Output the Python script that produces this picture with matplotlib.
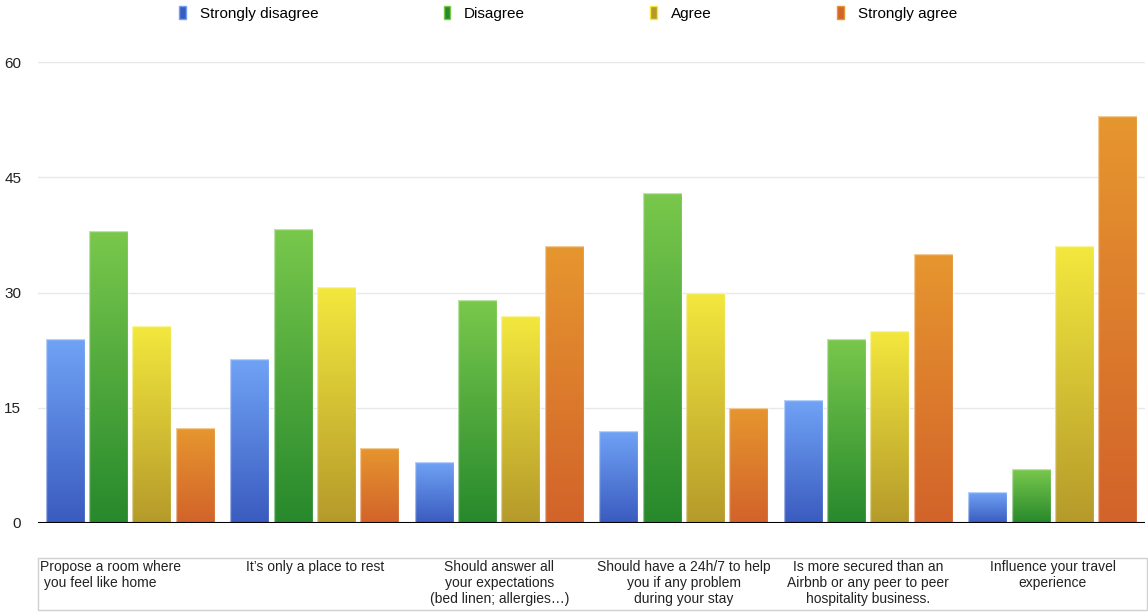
import numpy as np
import matplotlib
matplotlib.use("Agg")
import matplotlib.pyplot as plt
from matplotlib.patches import Patch, Rectangle
from matplotlib.colors import LinearSegmentedColormap

plt.rcParams['font.family'] = ['Liberation Sans', 'DejaVu Sans']

categories = [
    "Propose a room where\n you feel like home",
    "It\u2019s only a place to rest",
    "Should answer all\nyour expectations\n(bed linen; allergies\u2026)",
    "Should have a 24h/7 to help\nyou if any problem\nduring your stay",
    "Is more secured than an\nAirbnb or any peer to peer\nhospitality business.",
    "Influence your travel\nexperience",
]
series_names = ["Strongly disagree", "Disagree", "Agree", "Strongly agree"]
strongly_disagree = [24, 21.4, 8, 12, 16, 4]
disagree = [38, 38.3, 29, 43, 24, 7]
agree = [25.7, 30.7, 27, 30, 25, 36]
strongly_agree = [12.3, 9.8, 36, 15, 35, 53]
yticks = [0, 15, 30, 45, 60]

# gradient (top, bottom) per series
grads = [("#70a3f6", "#3a5bbf"), ("#79c84c", "#27892c"),
         ("#f3e83e", "#b59a2a"), ("#e6962f", "#d2632a")]

fig = plt.figure(figsize=(11.48, 6.12), dpi=100)
W, H = 1148, 612
ax = fig.add_axes([38 / W, 89 / H, (1145 - 38) / W, (523 - 62) / H])

values = [strongly_disagree, disagree, agree, strongly_agree]
x = np.arange(len(categories))
step = 0.235
width = 0.211
grad_img = np.linspace(1, 0, 256).reshape(-1, 1)

for k, vals in enumerate(values):
    offs = (k - 1.5) * step
    bars = ax.bar(x + offs, vals, width, facecolor='none',
                  edgecolor=(1, 1, 1, 0.5), linewidth=1, zorder=3)
    cmap = LinearSegmentedColormap.from_list("g%d" % k, [grads[k][1], grads[k][0]])
    for b in bars:
        bx, by = b.get_x(), b.get_y()
        bw, bh = b.get_width(), b.get_height()
        im = ax.imshow(grad_img, cmap=cmap, aspect='auto', vmin=0, vmax=1,
                       extent=[bx, bx + bw, by, by + bh], zorder=2)
        im.set_clip_path(b)

ax.set_xlim(-0.5, len(categories) - 0.5)
ax.set_ylim(0, 60)
ax.set_yticks(yticks)
ax.set_yticklabels([str(t) for t in yticks], fontsize=11, color='#222222')
ax.tick_params(axis='y', length=0, pad=12)
ax.set_xticks([])
for s in ax.spines.values():
    s.set_visible(False)
for t in yticks[1:]:
    ax.axhline(t, color='#e8e8e8', linewidth=1, zorder=1)
ax.axhline(0, color='black', linewidth=1.5, zorder=4)

# category label box
fig.patches.append(Rectangle((38 / W, 2 / H), (1147 - 38) / W, (54 - 2) / H,
                             transform=fig.transFigure, facecolor='none',
                             edgecolor='#d0d0d0', linewidth=1))
ytop = -(560 - 523) / (523 - 62)
for i, lab in enumerate(categories):
    if i == 0:
        ax.text(-0.49, ytop, lab, transform=ax.get_xaxis_transform(), ha='left',
                va='top', fontsize=10, linespacing=1.2, color='#222222')
    else:
        ax.text(i, ytop, lab, transform=ax.get_xaxis_transform(), ha='center',
                va='top', fontsize=10, linespacing=1.2, multialignment='center',
                color='#222222')

handles = [Patch(facecolor=g[1], edgecolor=g[0]) for g in grads]
fig.legend(handles, series_names, loc='upper center', bbox_to_anchor=(568 / W, 1.0),
           ncol=4, frameon=False, fontsize=11, handlelength=0.45, handleheight=0.95,
           handletextpad=0.9, columnspacing=8.2, borderaxespad=0.0)

fig.savefig("out.png", dpi=100)
